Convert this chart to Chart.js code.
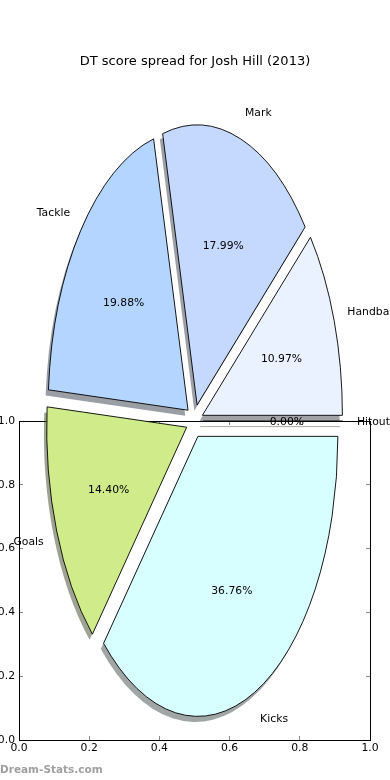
<!DOCTYPE html>
<html><head><meta charset="utf-8">
<script src="https://cdn.jsdelivr.net/npm/chart.js@4.4.1/dist/chart.umd.min.js"></script>
<style>
html,body{margin:0;padding:0;background:#fff;}
#wrap{position:relative;width:390px;height:780px;overflow:hidden;background:#fff;}
#wrap canvas{position:absolute;left:0;top:0;}
</style></head><body>
<div id="wrap"><canvas id="frame" width="390" height="780"></canvas><canvas id="pie" width="390" height="780"></canvas></div>
<script>
// ---- data ----
const categories = ['Handball', 'Mark', 'Tackle', 'Goals', 'Kicks', 'Hitout'];
const shares = [10.97, 17.99, 19.88, 14.40, 36.76, 0.00];
const sliceColors = ['#eaf1ff', '#c5d9ff', '#b3d5ff', '#cfeb8a', '#d8ffff', '#ffe4c4'];
const axisTickValues = [0.0, 0.2, 0.4, 0.6, 0.8, 1.0];
const axisTickLabels = ['0.0', '0.2', '0.4', '0.6', '0.8', '1.0'];
const titleText = 'DT score spread for Josh Hill (2013)';
const watermarkText = 'Dream-Stats.com';

// ---- style / geometry constants ----
const PIE_CENTER = {x: 0.5, y: 1.0};   // in frame axis units
const PIE_RADIUS = 140;               // horizontal radius, px
const ASPECT = 2;                     // vertical / horizontal radius
const EXPLODE = 0.06;                 // fraction of radius
const SHADOW = 0.02;                  // fraction of radius
const LABEL_DIST = 1.1, PCT_DIST = 0.6;
const TEXT_DY = 1;
const FONT = "'DejaVu Sans', sans-serif";

Chart.defaults.font.family = FONT;
Chart.defaults.font.size = 10.8;
Chart.defaults.color = '#000';

function axis(pos, withLabels) {
  const horiz = pos === 'bottom' || pos === 'top';
  return {
    type: 'linear', position: pos, min: 0, max: 1,
    afterBuildTicks: s => { s.ticks = axisTickValues.map(v => ({value: v})); },
    afterFit: s => { if (horiz) s.height = withLabels ? 40 : 0; else s.width = withLabels ? 19 : 0; },
    grid: {display: true, drawOnChartArea: false, drawTicks: true, tickLength: -4, color: '#888', lineWidth: 1},
    border: {display: true, color: '#000', width: 1},
    ticks: {display: withLabels, padding: horiz ? 5.5 : 8, color: '#000', font: {size: 10.8},
            maxRotation: 0, autoSkip: false, callback: (v, i) => axisTickLabels[i]}
  };
}

const frameChart = new Chart(document.getElementById('frame'), {
  type: 'scatter',
  data: {datasets: [{data: []}]},
  options: {
    responsive: false, animation: false, devicePixelRatio: 1, events: [],
    layout: {padding: {top: 421, right: 20, left: 0, bottom: 0}},
    plugins: {legend: {display: false}, tooltip: {enabled: false}, title: {display: false}},
    scales: {x: axis('bottom', true), y: axis('left', true), x2: axis('top', false), y2: axis('right', false)}
  }
});

function shadowColor(hex) {
  const n = parseInt(hex.slice(1), 16);
  const r = (n >> 16) & 255, g = (n >> 8) & 255, b = n & 255;
  return `rgba(${Math.round(r * 0.3)},${Math.round(g * 0.3)},${Math.round(b * 0.3)},0.5)`;
}

function pieCenter() {
  return {cx: frameChart.scales.x.getPixelForValue(PIE_CENTER.x),
          cy: frameChart.scales.y.getPixelForValue(PIE_CENTER.y)};
}

function applyArcTransform(ctx, arc, dx, dy) {
  const {cx, cy} = pieCenter();
  const mid = (arc.startAngle + arc.endAngle) / 2;
  const ex = EXPLODE * arc.outerRadius;
  ctx.translate(cx + dx, cy + dy);
  ctx.scale(1, -ASPECT);
  ctx.translate(Math.cos(mid) * ex - arc.x, Math.sin(mid) * ex - arc.y);
}

function traceZeroArc(ctx, arc) {
  ctx.beginPath();
  ctx.moveTo(arc.x, arc.y);
  ctx.lineTo(arc.x + arc.outerRadius * Math.cos(arc.startAngle), arc.y + arc.outerRadius * Math.sin(arc.startAngle));
}

const ellipsePie = {
  id: 'ellipsePie',
  beforeDatasetsDraw(chart) {
    const ctx = chart.ctx;
    const arcs = chart.getDatasetMeta(0).data;
    const sdx = -SHADOW * PIE_RADIUS, sdy = SHADOW * PIE_RADIUS * ASPECT;
    // shadows first
    arcs.forEach((arc, i) => {
      const col = shadowColor(sliceColors[i]);
      ctx.save();
      if (arc.circumference > 0) {
        ctx.beginPath(); ctx.rect(0, 0, 0, 0); ctx.clip();
        applyArcTransform(ctx, arc, sdx, sdy);
        arc.draw(ctx);
        ctx.restore();
        ctx.save();
        ctx.fillStyle = col; ctx.fill();
      } else {
        applyArcTransform(ctx, arc, sdx, sdy);
        traceZeroArc(ctx, arc);
        ctx.restore();
        ctx.save();
        ctx.strokeStyle = col; ctx.lineWidth = 0.9; ctx.stroke();
      }
      ctx.restore();
    });
    // wedges
    arcs.forEach((arc, i) => {
      ctx.save();
      applyArcTransform(ctx, arc, 0, 0);
      if (arc.circumference > 0) arc.draw(ctx); else traceZeroArc(ctx, arc);
      ctx.restore();
      ctx.save();
      ctx.strokeStyle = '#000'; ctx.lineWidth = 0.9; ctx.lineJoin = 'miter';
      ctx.stroke();
      ctx.restore();
    });
    return false;
  },
  afterDraw(chart) {
    const ctx = chart.ctx;
    const arcs = chart.getDatasetMeta(0).data;
    const {cx, cy} = pieCenter();
    const total = shares.reduce((a, b) => a + b, 0);
    ctx.save();
    ctx.fillStyle = '#000';
    ctx.font = `10.8px ${FONT}`;
    ctx.textBaseline = 'middle';
    arcs.forEach((arc, i) => {
      const mid = (arc.startAngle + arc.endAngle) / 2;
      const c = Math.cos(mid), s = Math.sin(mid);
      const rx = arc.outerRadius, ry = rx * ASPECT;
      const sx = cx + EXPLODE * rx * c, sy = cy - EXPLODE * ry * s + TEXT_DY;
      ctx.textAlign = c > 0 ? 'left' : 'right';
      ctx.fillText(categories[i], sx + LABEL_DIST * rx * c, sy - LABEL_DIST * ry * s);
      ctx.textAlign = 'center';
      ctx.fillText((shares[i] / total * 100).toFixed(2) + '%', sx + PCT_DIST * rx * c, sy - PCT_DIST * ry * s);
    });
    ctx.font = `bold 10.5px ${FONT}`;
    ctx.fillStyle = '#a0a0a0';
    ctx.textAlign = 'left';
    ctx.fillText(watermarkText, 0, 770);
    ctx.restore();
  }
};

const pieChart = new Chart(document.getElementById('pie'), {
  type: 'pie',
  data: {labels: categories, datasets: [{data: shares, backgroundColor: sliceColors, borderWidth: 0, offset: 0,
          radius: PIE_RADIUS, rotation: 90}]},
  options: {
    responsive: false, animation: false, devicePixelRatio: 1, events: [], rotation: 90,
    plugins: {
      legend: {display: false}, tooltip: {enabled: false},
      title: {display: true, text: titleText, color: '#000', font: {size: 13, weight: 'normal', family: FONT},
              padding: {top: 54, bottom: 10}}
    }
  },
  plugins: [ellipsePie]
});
</script>
</body></html>
